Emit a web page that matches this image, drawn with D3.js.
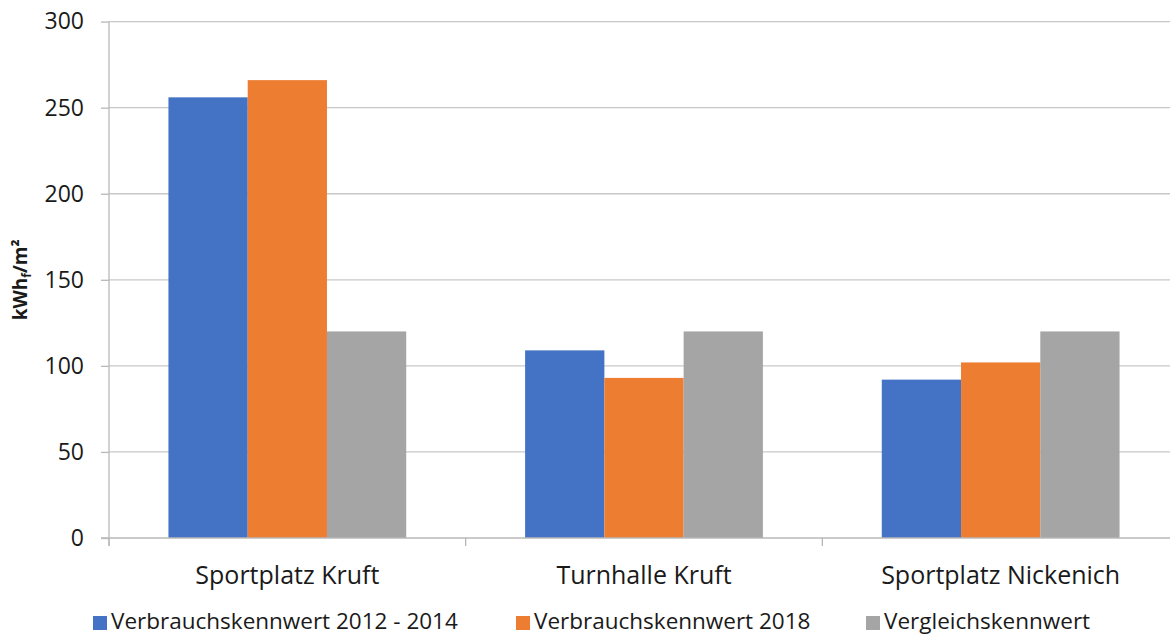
<!DOCTYPE html>
<html>
<head>
<meta charset="utf-8">
<script src="https://cdn.jsdelivr.net/npm/d3@7"></script>
<style>
html,body{margin:0;padding:0;background:#fff;}
svg{display:block;}
</style>
</head>
<body>
<svg id="chart" width="1170" height="637"></svg>
<script>
const categories = ["Sportplatz Kruft", "Turnhalle Kruft", "Sportplatz Nickenich"];
const seriesNames = ["Verbrauchskennwert 2012 - 2014", "Verbrauchskennwert 2018", "Vergleichskennwert"];
const seriesColors = ["#4472c4", "#ed7d31", "#a5a5a5"];
const values2012_2014 = [256, 109, 92];
const values2018 = [266, 93, 102];
const valuesVergleich = [120, 120, 120];
const yTicks = [0, 50, 100, 150, 200, 250, 300];

const seriesValues = [values2012_2014, values2018, valuesVergleich];
const font = "'Open Sans', sans-serif";

const svg = d3.select("#chart");
const mLeft = 109, mRight = 1179, mTop = 21.6, mBottom = 538;

const x0 = d3.scaleBand().domain(categories).range([mLeft, mRight]).padding(0);
const x1 = d3.scaleBand().domain(d3.range(seriesNames.length)).range([0, x0.bandwidth()]).paddingInner(0).paddingOuter(0.75);
const y = d3.scaleLinear().domain([0, 300]).range([mBottom, mTop]);

// gridlines
svg.append("g").selectAll("line").data(yTicks.filter(d => d > 0)).join("line")
  .attr("x1", mLeft).attr("x2", mRight)
  .attr("y1", d => y(d)).attr("y2", d => y(d))
  .attr("stroke", "#c8c8c8").attr("stroke-width", 1.3);

// bars
const groups = svg.append("g").selectAll("g").data(categories).join("g")
  .attr("transform", c => `translate(${x0(c)},0)`);
groups.selectAll("rect").data((c, ci) => seriesValues.map((vals, si) => ({si, v: vals[ci]})))
  .join("rect")
  .attr("x", d => x1(d.si))
  .attr("width", x1.bandwidth())
  .attr("y", d => y(d.v))
  .attr("height", d => y(0) - y(d.v))
  .attr("fill", d => seriesColors[d.si]);

// y axis
const yAxis = d3.axisLeft(y).tickValues(yTicks).tickSize(8).tickPadding(17);
const yg = svg.append("g").attr("transform", `translate(${mLeft},0)`).call(yAxis);
yg.select(".domain").remove();
yg.selectAll(".tick line").attr("stroke", "#b8b8b8").attr("stroke-width", 1.3);
yg.selectAll(".tick text").attr("font-family", font).attr("font-size", 23).attr("fill", "#1a1a1a");
svg.append("line").attr("x1", mLeft).attr("x2", mLeft).attr("y1", y(300)).attr("y2", mBottom + 8)
  .attr("stroke", "#b8b8b8").attr("stroke-width", 1.3);

// x axis
svg.append("line").attr("x1", mLeft - 8).attr("x2", mRight).attr("y1", mBottom).attr("y2", mBottom)
  .attr("stroke", "#b8b8b8").attr("stroke-width", 1.3);
const boundaries = categories.map(c => x0(c)).concat([mRight]);
svg.append("g").selectAll("line").data(boundaries).join("line")
  .attr("x1", d => d).attr("x2", d => d).attr("y1", mBottom).attr("y2", mBottom + 8)
  .attr("stroke", "#b8b8b8").attr("stroke-width", 1.3);
const xAxis = d3.axisBottom(x0).tickSize(0).tickPadding(0);
const xg = svg.append("g").attr("transform", `translate(0,${mBottom})`).call(xAxis);
xg.select(".domain").remove();
xg.selectAll(".tick text").attr("font-family", font).attr("font-size", 25).attr("fill", "#1a1a1a")
  .attr("dy", null).attr("y", 46);

// y title
const yt = svg.append("text")
  .attr("transform", `translate(27,${(mTop + mBottom) / 2}) rotate(-90)`)
  .attr("text-anchor", "middle")
  .attr("font-family", font).attr("font-size", 19).attr("font-weight", "bold").attr("fill", "#1a1a1a");
yt.append("tspan").text("kWh");
yt.append("tspan").text("f").attr("font-size", 12).attr("dy", 4);
yt.append("tspan").text("/m²").attr("dy", -4);

// legend
const legendX = [93, 516, 866];
const lg = svg.append("g").selectAll("g").data(seriesNames).join("g")
  .attr("transform", (d, i) => `translate(${legendX[i]},${629})`);
lg.append("rect").attr("x", 0).attr("y", -13).attr("width", 14).attr("height", 14)
  .attr("fill", (d, i) => seriesColors[i]);
lg.append("text").attr("x", 18).attr("y", 0)
  .attr("font-family", font).attr("font-size", 22.5).attr("fill", "#1a1a1a")
  .text(d => d);
</script>
</body>
</html>
